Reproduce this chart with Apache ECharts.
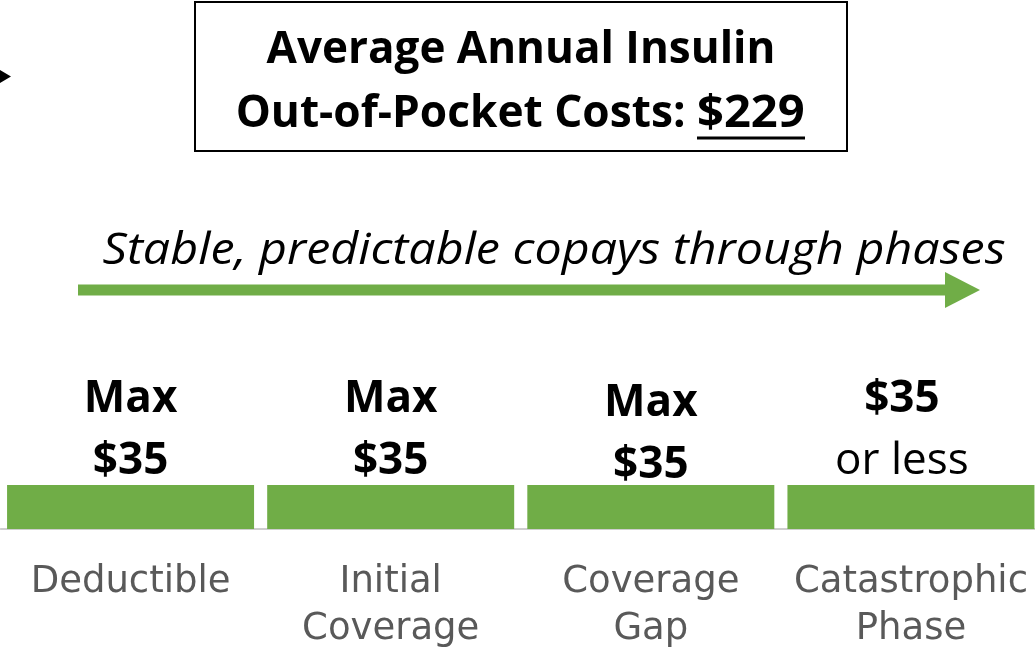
<!DOCTYPE html>
<html>
<head>
<meta charset="utf-8">
<script src="https://cdn.jsdelivr.net/npm/echarts@6/dist/echarts.min.js"></script>
<style>html,body{margin:0;padding:0;background:#fff;}#c{width:1035px;height:648px;}</style>
</head>
<body>
<div id="c"></div>
<script>
// ---- data ----
const categories = ['Deductible', 'Initial\nCoverage', 'Coverage\nGap', 'Catastrophic\nPhase'];
const copayValues = [35, 35, 35, 35];
const labelTop = ['Max', 'Max', 'Max', '$35'];
const labelBottom = ['$35', '$35', '$35', 'or less'];
const titleLine1 = 'Average Annual Insulin';
const titleLine2 = 'Out-of-Pocket Costs: ';
const titleAmount = '$229';
const subtitle = 'Stable, predictable copays through phases';

const GREEN = '#70ad47';
const chart = echarts.init(document.getElementById('c'), null, {renderer: 'canvas'});

const labelOffsets = [[0, 0], [0, 0], [0, 4], [-9, 0]];
const barData = copayValues.map((v, i) => ({value: v, label: {offset: labelOffsets[i]}}));

chart.setOption({
  animation: false,
  backgroundColor: '#ffffff',
  grid: {left: 0.5, right: -6, top: 485, bottom: 119, containLabel: false, outerBoundsMode: 'none'},
  xAxis: {
    type: 'category',
    data: categories,
    axisLine: {show: true, lineStyle: {color: '#bfbfbf', width: 1.5}},
    axisTick: {show: false},
    axisLabel: {
      interval: 0,
      margin: 30,
      color: '#595959',
      fontFamily: 'DejaVu Sans',
      fontSize: 37,
      lineHeight: 47
    }
  },
  yAxis: {type: 'value', min: 0, max: 35, show: false, splitLine: {show: false}},
  series: [{
    type: 'bar',
    data: barData,
    barWidth: 247,
    itemStyle: {color: GREEN},
    label: {
      show: true,
      position: 'top',
      distance: -7,
      formatter: (p) => {
        const i = p.dataIndex;
        if (i === 3) return '{b|' + labelTop[i] + '}\n{n|' + labelBottom[i] + '}';
        return '{b|' + labelTop[i] + '}\n{b|' + labelBottom[i] + '}';
      },
      rich: {
        b: {fontFamily: 'Open Sans', fontWeight: 'bold', fontSize: 44, lineHeight: 62, color: '#000'},
        n: {fontFamily: 'Open Sans', fontWeight: 'normal', fontSize: 44, lineHeight: 62, color: '#000'}
      }
    }
  }],
  graphic: [
    {type: 'polygon', shape: {points: [[0, 70], [11, 76.5], [0, 83]]}, style: {fill: '#000'}},
    {type: 'rect', shape: {x: 195, y: 2, width: 652, height: 149}, style: {fill: '#fff', stroke: '#000', lineWidth: 2}},
    {type: 'text', x: 521, y: 50, style: {text: titleLine1, font: 'bold 44px "Open Sans"', fill: '#000', align: 'center', verticalAlign: 'middle'}},
    {type: 'text', x: 697, y: 114, scaleX: 1.005, style: {text: titleLine2, font: 'bold 44px "Open Sans"', fill: '#000', align: 'right', verticalAlign: 'middle'}},
    {type: 'text', x: 697, y: 114, scaleX: 1.07, style: {text: titleAmount, font: 'bold 44px "Open Sans"', fill: '#000', align: 'left', verticalAlign: 'middle'}},
    {type: 'line', shape: {x1: 697, y1: 138, x2: 805, y2: 138}, style: {stroke: '#000', lineWidth: 3}},
    {type: 'text', x: 554, y: 251, scaleX: 1.1, style: {text: subtitle, font: 'italic 44px "Open Sans"', fill: '#000', align: 'center', verticalAlign: 'middle'}},
    {type: 'line', shape: {x1: 78, y1: 290, x2: 947, y2: 290}, style: {stroke: GREEN, lineWidth: 11}},
    {type: 'polygon', shape: {points: [[945, 272], [980, 290], [945, 308]]}, style: {fill: GREEN}}
  ]
});
</script>
</body>
</html>
